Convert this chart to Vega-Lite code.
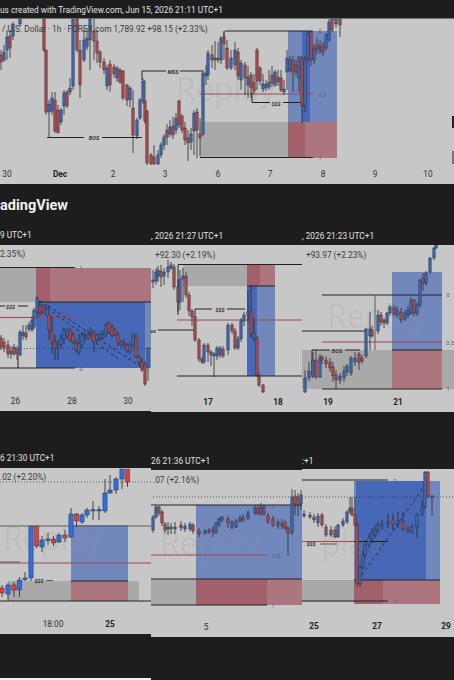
{
"$schema":"https://vega.github.io/schema/vega-lite/v6.json",
"width":454,"height":680,"padding":0,"autosize":{"type":"none"},
"background":"#1d1d1d","view":{"stroke":null},
"datasets":{
"areas":[
{"x":0,"x2":454,"y":18.5,"y2":184,"k":"panel"},
{"x":0,"x2":151,"y":245,"y2":411,"k":"panel"},
{"x":151,"x2":302,"y":245,"y2":412,"k":"panel"},
{"x":302,"x2":454,"y":245,"y2":412,"k":"panel"},
{"x":0,"x2":151,"y":468,"y2":634,"k":"panel"},
{"x":151,"x2":302,"y":470,"y2":637,"k":"panel"},
{"x":302,"x2":454,"y":469,"y2":637,"k":"panel"},
{"x":0,"x2":151,"y":678,"y2":680,"k":"white"},
{"x":452,"x2":454,"y":116,"y2":128,"k":"line"},
{"x":452,"x2":454,"y":151,"y2":164,"k":"redDark"},
{"x":200,"x2":288,"y":122,"y2":158,"k":"gray"},
{"x":288,"x2":337,"y":31,"y2":122,"k":"blue"},
{"x":302,"x2":310,"y":31,"y2":122,"k":"blueDark"},
{"x":288,"x2":337,"y":122,"y2":158,"k":"red"},
{"x":288,"x2":305,"y":122,"y2":158,"k":"redDark"},
{"x":0,"x2":36,"y":268,"y2":302,"k":"gray"},
{"x":36,"x2":151,"y":268,"y2":302,"k":"red"},
{"x":36,"x2":50,"y":268,"y2":302,"k":"redDark"},
{"x":36,"x2":151,"y":302,"y2":368,"k":"blue"},
{"x":36,"x2":145,"y":302,"y2":368,"k":"blueDark"},
{"x":183,"x2":247,"y":264,"y2":286,"k":"gray"},
{"x":247,"x2":275,"y":264,"y2":286,"k":"red"},
{"x":247,"x2":260,"y":264,"y2":286,"k":"redDark"},
{"x":247,"x2":275,"y":286,"y2":376,"k":"blue"},
{"x":247,"x2":257,"y":286,"y2":376,"k":"blueDark"},
{"x":302,"x2":454,"y":350,"y2":389,"k":"gray"},
{"x":392,"x2":442,"y":272,"y2":350,"k":"blue"},
{"x":392,"x2":442,"y":350,"y2":389,"k":"red"},
{"x":8,"x2":139,"y":581,"y2":601,"k":"gray"},
{"x":71,"x2":128,"y":525,"y2":581,"k":"blue"},
{"x":71,"x2":128,"y":581,"y2":601,"k":"red"},
{"x":151,"x2":196,"y":579,"y2":605,"k":"gray"},
{"x":196,"x2":302,"y":505,"y2":579,"k":"blue"},
{"x":196,"x2":302,"y":579,"y2":605,"k":"red"},
{"x":196,"x2":267,"y":579,"y2":605,"k":"redDark"},
{"x":302,"x2":354,"y":580,"y2":602,"k":"gray"},
{"x":354,"x2":440,"y":481,"y2":580,"k":"blue"},
{"x":356,"x2":426,"y":481,"y2":580,"k":"blueDark"},
{"x":354,"x2":440,"y":580,"y2":604,"k":"red"},
{"x":354,"x2":383,"y":580,"y2":604,"k":"redDark"}
],
"lines":[
{"x":225,"x2":313,"y":31,"y2":31,"k":"line"},
{"x":224,"x2":224,"y":31,"y2":38,"k":"line"},
{"x":200,"x2":313,"y":94,"y2":94,"k":"lineRed"},
{"x":200,"x2":313,"y":157.5,"y2":157.5,"k":"line"},
{"x":142,"x2":166,"y":71,"y2":71,"k":"line"},
{"x":180,"x2":204,"y":71,"y2":71,"k":"line"},
{"x":142,"x2":142,"y":71,"y2":80,"k":"line"},
{"x":47,"x2":84,"y":137.5,"y2":137.5,"k":"line"},
{"x":102,"x2":142,"y":137.5,"y2":137.5,"k":"line"},
{"x":252,"x2":270,"y":102.5,"y2":102.5,"k":"line"},
{"x":283,"x2":302,"y":102.5,"y2":102.5,"k":"line"},
{"x":252,"x2":252,"y":92,"y2":102.5,"k":"line"},
{"x":0,"x2":75,"y":267.5,"y2":267.5,"k":"line"},
{"x":36,"x2":151,"y":302,"y2":302,"k":"line"},
{"x":0,"x2":75,"y":317.5,"y2":317.5,"k":"lineRed"},
{"x":0,"x2":75,"y":368,"y2":368,"k":"line"},
{"x":18,"x2":18,"y":355,"y2":368,"k":"line"},
{"x":0,"x2":5,"y":306,"y2":306,"k":"line"},
{"x":18,"x2":28,"y":306,"y2":306,"k":"line"},
{"x":178,"x2":302,"y":264.5,"y2":264.5,"k":"line"},
{"x":178,"x2":178,"y":265,"y2":315,"k":"line"},
{"x":247,"x2":275,"y":286,"y2":286,"k":"line"},
{"x":177,"x2":302,"y":320,"y2":320,"k":"lineRed"},
{"x":177,"x2":302,"y":376,"y2":376,"k":"line"},
{"x":195,"x2":212,"y":309,"y2":309,"k":"line"},
{"x":227,"x2":245,"y":309,"y2":309,"k":"line"},
{"x":195,"x2":195,"y":309,"y2":318,"k":"line"},
{"x":158,"x2":195,"y":330,"y2":330,"k":"line"},
{"x":322,"x2":442,"y":295,"y2":295,"k":"line"},
{"x":322,"x2":442,"y":342,"y2":342,"k":"lineRed"},
{"x":322,"x2":442,"y":389,"y2":389,"k":"line"},
{"x":302,"x2":365,"y":331,"y2":331,"k":"line"},
{"x":375,"x2":375,"y":295,"y2":350,"k":"lineGray"},
{"x":312,"x2":330,"y":350,"y2":350,"k":"line"},
{"x":345,"x2":360,"y":350,"y2":350,"k":"line"},
{"x":312,"x2":312,"y":350,"y2":375,"k":"line"},
{"x":392,"x2":442,"y":350,"y2":350,"k":"line"},
{"x":0,"x2":151,"y":526,"y2":526,"k":"lineGray"},
{"x":0,"x2":151,"y":563,"y2":563,"k":"lineRed"},
{"x":0,"x2":20,"y":562,"y2":562,"k":"lineGray"},
{"x":71,"x2":128,"y":581,"y2":581,"k":"line"},
{"x":0,"x2":151,"y":601,"y2":601,"k":"line"},
{"x":46,"x2":53,"y":580.5,"y2":580.5,"k":"lineGray"},
{"x":151,"x2":302,"y":505,"y2":505,"k":"line"},
{"x":151,"x2":302,"y":579,"y2":579,"k":"line"},
{"x":151,"x2":267,"y":555,"y2":555,"k":"lineRed"},
{"x":151,"x2":267,"y":605,"y2":605,"k":"line"},
{"x":302,"x2":388,"y":480,"y2":480,"k":"line"},
{"x":302,"x2":388,"y":601,"y2":601,"k":"line"},
{"x":302,"x2":354,"y":541.5,"y2":541.5,"k":"lineRed"},
{"x":354,"x2":388,"y":541.5,"y2":541.5,"k":"line"},
{"x":320,"x2":337,"y":544,"y2":544,"k":"lineGray"},
{"x":354,"x2":440,"y":580,"y2":580,"k":"line"}
],
"dash":[
{"x":48,"x2":143,"y":306,"y2":368,"k":"line"},
{"x":52,"x2":120,"y":312,"y2":360,"k":"line"},
{"x":362,"x2":425,"y":575,"y2":485,"k":"line"}
],
"dots":[
{"x":0,"x2":151,"y":348.5,"y2":348.5,"k":"line"},
{"x":0,"x2":151,"y":482,"y2":482,"k":"line"},
{"x":153,"x2":302,"y":497,"y2":497,"k":"line"},
{"x":302,"x2":454,"y":497,"y2":497,"k":"line"}
],
"candles":[
{"p":"A","x":1,"top":55,"bottom":62,"high":50,"low":70,"d":"down"},
{"p":"A","x":4,"top":52,"bottom":60,"high":45,"low":62,"d":"up"},
{"p":"A","x":7,"top":37,"bottom":50,"high":30,"low":60,"d":"up"},
{"p":"A","x":10,"top":36,"bottom":48,"high":30,"low":58,"d":"down"},
{"p":"A","x":13,"top":24,"bottom":36,"high":22,"low":40,"d":"up"},
{"p":"A","x":20,"top":19,"bottom":24,"high":19,"low":27,"d":"up"},
{"p":"A","x":44,"top":19,"bottom":50,"high":19,"low":52,"d":"down"},
{"p":"A","x":46,"top":50,"bottom":112,"high":50,"low":115,"d":"down"},
{"p":"A","x":49,"top":104,"bottom":112,"high":100,"low":138,"d":"up"},
{"p":"A","x":52,"top":98,"bottom":111,"high":92,"low":115,"d":"up"},
{"p":"A","x":55,"top":100,"bottom":131,"high":92,"low":133,"d":"down"},
{"p":"A","x":58,"top":110,"bottom":133,"high":105,"low":133,"d":"down"},
{"p":"A","x":61,"top":110,"bottom":122,"high":108,"low":125,"d":"up"},
{"p":"A","x":64,"top":93,"bottom":106,"high":90,"low":115,"d":"up"},
{"p":"A","x":67,"top":92,"bottom":106,"high":90,"low":108,"d":"down"},
{"p":"A","x":70,"top":88,"bottom":92,"high":78,"low":95,"d":"up"},
{"p":"A","x":73,"top":19,"bottom":86,"high":19,"low":90,"d":"up"},
{"p":"A","x":77,"top":19,"bottom":50,"high":19,"low":52,"d":"down"},
{"p":"A","x":80,"top":50,"bottom":85,"high":40,"low":98,"d":"down"},
{"p":"A","x":84,"top":40,"bottom":60,"high":30,"low":62,"d":"up"},
{"p":"A","x":87,"top":38,"bottom":47,"high":28,"low":50,"d":"up"},
{"p":"A","x":90,"top":19,"bottom":40,"high":19,"low":70,"d":"up"},
{"p":"A","x":94,"top":31,"bottom":41,"high":19,"low":60,"d":"down"},
{"p":"A","x":97,"top":41,"bottom":53,"high":30,"low":63,"d":"down"},
{"p":"A","x":100,"top":52,"bottom":62,"high":50,"low":68,"d":"down"},
{"p":"A","x":104,"top":62,"bottom":70,"high":58,"low":74,"d":"down"},
{"p":"A","x":107,"top":68,"bottom":86,"high":65,"low":90,"d":"up"},
{"p":"A","x":110,"top":64,"bottom":85,"high":60,"low":92,"d":"down"},
{"p":"A","x":114,"top":67,"bottom":74,"high":64,"low":78,"d":"down"},
{"p":"A","x":117,"top":68,"bottom":78,"high":66,"low":82,"d":"up"},
{"p":"A","x":120,"top":70,"bottom":82,"high":68,"low":84,"d":"down"},
{"p":"A","x":123,"top":71,"bottom":98,"high":70,"low":100,"d":"down"},
{"p":"A","x":127,"top":85,"bottom":100,"high":84,"low":106,"d":"down"},
{"p":"A","x":130,"top":88,"bottom":100,"high":86,"low":107,"d":"up"},
{"p":"A","x":133,"top":108,"bottom":135,"high":90,"low":153,"d":"down"},
{"p":"A","x":137,"top":120,"bottom":136,"high":118,"low":139,"d":"up"},
{"p":"A","x":140,"top":100,"bottom":118,"high":98,"low":120,"d":"up"},
{"p":"A","x":143,"top":81,"bottom":101,"high":78,"low":104,"d":"up"},
{"p":"A","x":145,"top":101,"bottom":121,"high":80,"low":124,"d":"down"},
{"p":"A","x":147,"top":111,"bottom":163,"high":110,"low":165,"d":"down"},
{"p":"A","x":151,"top":155,"bottom":164,"high":153,"low":165,"d":"down"},
{"p":"A","x":154,"top":157,"bottom":164,"high":145,"low":165,"d":"down"},
{"p":"A","x":158,"top":155,"bottom":164,"high":150,"low":165,"d":"up"},
{"p":"A","x":161,"top":145,"bottom":155,"high":142,"low":158,"d":"up"},
{"p":"A","x":164,"top":137,"bottom":145,"high":134,"low":150,"d":"up"},
{"p":"A","x":167,"top":130,"bottom":137,"high":124,"low":145,"d":"down"},
{"p":"A","x":170,"top":127,"bottom":134,"high":120,"low":137,"d":"up"},
{"p":"A","x":173,"top":126,"bottom":135,"high":117,"low":139,"d":"down"},
{"p":"A","x":176,"top":118,"bottom":130,"high":113,"low":134,"d":"up"},
{"p":"A","x":179,"top":101,"bottom":125,"high":100,"low":128,"d":"down"},
{"p":"A","x":182,"top":116,"bottom":130,"high":114,"low":133,"d":"down"},
{"p":"A","x":185,"top":128,"bottom":140,"high":122,"low":145,"d":"down"},
{"p":"A","x":188,"top":138,"bottom":143,"high":130,"low":161,"d":"down"},
{"p":"A","x":191,"top":134,"bottom":142,"high":128,"low":150,"d":"up"},
{"p":"A","x":194,"top":113,"bottom":131,"high":110,"low":155,"d":"up"},
{"p":"A","x":197,"top":112,"bottom":130,"high":108,"low":158,"d":"down"},
{"p":"A","x":200,"top":134,"bottom":138,"high":118,"low":156,"d":"down"},
{"p":"A","x":203,"top":73,"bottom":134,"high":72,"low":136,"d":"up"},
{"p":"A","x":206,"top":73,"bottom":76,"high":65,"low":85,"d":"up"},
{"p":"A","x":208,"top":53,"bottom":75,"high":50,"low":80,"d":"up"},
{"p":"A","x":212,"top":55,"bottom":60,"high":45,"low":68,"d":"down"},
{"p":"A","x":215,"top":58,"bottom":60,"high":41,"low":70,"d":"up"},
{"p":"A","x":218,"top":58,"bottom":60,"high":42,"low":63,"d":"down"},
{"p":"A","x":221,"top":38,"bottom":60,"high":36,"low":64,"d":"up"},
{"p":"A","x":224,"top":37,"bottom":44,"high":33,"low":60,"d":"down"},
{"p":"A","x":227,"top":48,"bottom":68,"high":40,"low":70,"d":"down"},
{"p":"A","x":231,"top":58,"bottom":68,"high":50,"low":70,"d":"up"},
{"p":"A","x":235,"top":50,"bottom":65,"high":42,"low":70,"d":"up"},
{"p":"A","x":238,"top":52,"bottom":76,"high":48,"low":80,"d":"down"},
{"p":"A","x":241,"top":63,"bottom":80,"high":60,"low":90,"d":"up"},
{"p":"A","x":245,"top":65,"bottom":78,"high":62,"low":95,"d":"down"},
{"p":"A","x":248,"top":77,"bottom":85,"high":66,"low":98,"d":"up"},
{"p":"A","x":251,"top":75,"bottom":88,"high":72,"low":98,"d":"down"},
{"p":"A","x":254,"top":82,"bottom":91,"high":74,"low":94,"d":"down"},
{"p":"A","x":257,"top":50,"bottom":81,"high":48,"low":90,"d":"down"},
{"p":"A","x":260,"top":68,"bottom":81,"high":66,"low":85,"d":"down"},
{"p":"A","x":263,"top":84,"bottom":89,"high":74,"low":92,"d":"up"},
{"p":"A","x":266,"top":84,"bottom":88,"high":80,"low":91,"d":"up"},
{"p":"A","x":269,"top":82,"bottom":87,"high":70,"low":90,"d":"up"},
{"p":"A","x":272,"top":75,"bottom":83,"high":66,"low":87,"d":"down"},
{"p":"A","x":275,"top":72,"bottom":85,"high":70,"low":87,"d":"up"},
{"p":"A","x":278,"top":77,"bottom":82,"high":70,"low":86,"d":"down"},
{"p":"A","x":281,"top":78,"bottom":90,"high":70,"low":92,"d":"down"},
{"p":"A","x":284,"top":89,"bottom":92,"high":80,"low":95,"d":"up"},
{"p":"A","x":287,"top":58,"bottom":72,"high":50,"low":90,"d":"up"},
{"p":"A","x":290,"top":60,"bottom":70,"high":56,"low":72,"d":"up"},
{"p":"A","x":293,"top":60,"bottom":72,"high":56,"low":92,"d":"down"},
{"p":"A","x":296,"top":65,"bottom":72,"high":60,"low":76,"d":"down"},
{"p":"A","x":299,"top":57,"bottom":78,"high":56,"low":92,"d":"up"},
{"p":"A","x":302,"top":58,"bottom":106,"high":56,"low":123,"d":"down"},
{"p":"A","x":305,"top":60,"bottom":106,"high":56,"low":112,"d":"up"},
{"p":"A","x":308,"top":34,"bottom":58,"high":32,"low":62,"d":"up"},
{"p":"A","x":311,"top":32,"bottom":60,"high":31,"low":66,"d":"down"},
{"p":"A","x":314,"top":48,"bottom":60,"high":44,"low":64,"d":"up"},
{"p":"A","x":317,"top":45,"bottom":50,"high":38,"low":54,"d":"down"},
{"p":"A","x":320,"top":46,"bottom":50,"high":40,"low":54,"d":"up"},
{"p":"A","x":323,"top":46,"bottom":52,"high":42,"low":56,"d":"down"},
{"p":"A","x":326,"top":35,"bottom":48,"high":33,"low":50,"d":"up"},
{"p":"A","x":329,"top":22,"bottom":40,"high":19,"low":42,"d":"up"},
{"p":"A","x":332,"top":19,"bottom":30,"high":19,"low":32,"d":"down"},
{"p":"A","x":336,"top":19,"bottom":24,"high":19,"low":28,"d":"up"},
{"p":"A","x":340,"top":19,"bottom":25,"high":19,"low":37,"d":"down"},
{"p":"B","x":1,"top":338,"bottom":347,"high":335,"low":350,"d":"down"},
{"p":"B","x":4,"top":342,"bottom":348,"high":338,"low":352,"d":"down"},
{"p":"B","x":8,"top":345,"bottom":354,"high":340,"low":358,"d":"down"},
{"p":"B","x":11,"top":351,"bottom":354,"high":346,"low":359,"d":"up"},
{"p":"B","x":14,"top":347,"bottom":354,"high":344,"low":356,"d":"down"},
{"p":"B","x":17,"top":349,"bottom":354,"high":346,"low":360,"d":"down"},
{"p":"B","x":20,"top":332,"bottom":355,"high":330,"low":356,"d":"up"},
{"p":"B","x":23,"top":332,"bottom":336,"high":325,"low":340,"d":"up"},
{"p":"B","x":26,"top":333,"bottom":337,"high":325,"low":340,"d":"down"},
{"p":"B","x":29,"top":325,"bottom":329,"high":322,"low":332,"d":"up"},
{"p":"B","x":32,"top":320,"bottom":330,"high":316,"low":332,"d":"up"},
{"p":"B","x":34,"top":310,"bottom":327,"high":308,"low":329,"d":"up"},
{"p":"B","x":37,"top":298,"bottom":312,"high":296,"low":318,"d":"up"},
{"p":"B","x":40,"top":305,"bottom":313,"high":300,"low":316,"d":"down"},
{"p":"B","x":43,"top":306,"bottom":312,"high":304,"low":314,"d":"down"},
{"p":"B","x":46,"top":306,"bottom":309,"high":304,"low":316,"d":"up"},
{"p":"B","x":49,"top":315,"bottom":330,"high":306,"low":340,"d":"down"},
{"p":"B","x":52,"top":330,"bottom":342,"high":316,"low":354,"d":"down"},
{"p":"B","x":55,"top":342,"bottom":348,"high":335,"low":360,"d":"down"},
{"p":"B","x":58,"top":342,"bottom":345,"high":340,"low":360,"d":"up"},
{"p":"B","x":61,"top":338,"bottom":345,"high":334,"low":349,"d":"up"},
{"p":"B","x":64,"top":330,"bottom":340,"high":328,"low":344,"d":"up"},
{"p":"B","x":67,"top":330,"bottom":336,"high":328,"low":339,"d":"up"},
{"p":"B","x":70,"top":330,"bottom":340,"high":328,"low":342,"d":"down"},
{"p":"B","x":73,"top":335,"bottom":342,"high":332,"low":344,"d":"down"},
{"p":"B","x":76,"top":343,"bottom":350,"high":339,"low":353,"d":"down"},
{"p":"B","x":79,"top":343,"bottom":352,"high":334,"low":355,"d":"up"},
{"p":"B","x":82,"top":335,"bottom":345,"high":332,"low":348,"d":"up"},
{"p":"B","x":85,"top":336,"bottom":338,"high":332,"low":342,"d":"up"},
{"p":"B","x":88,"top":335,"bottom":338,"high":330,"low":340,"d":"down"},
{"p":"B","x":91,"top":333,"bottom":335,"high":327,"low":338,"d":"up"},
{"p":"B","x":94,"top":333,"bottom":342,"high":330,"low":353,"d":"down"},
{"p":"B","x":97,"top":335,"bottom":340,"high":333,"low":343,"d":"up"},
{"p":"B","x":100,"top":334,"bottom":338,"high":331,"low":341,"d":"up"},
{"p":"B","x":103,"top":335,"bottom":338,"high":330,"low":340,"d":"up"},
{"p":"B","x":106,"top":325,"bottom":333,"high":322,"low":337,"d":"up"},
{"p":"B","x":109,"top":323,"bottom":332,"high":321,"low":334,"d":"down"},
{"p":"B","x":112,"top":327,"bottom":335,"high":324,"low":338,"d":"down"},
{"p":"B","x":115,"top":330,"bottom":334,"high":328,"low":336,"d":"down"},
{"p":"B","x":118,"top":335,"bottom":343,"high":332,"low":346,"d":"down"},
{"p":"B","x":121,"top":342,"bottom":345,"high":340,"low":347,"d":"down"},
{"p":"B","x":124,"top":343,"bottom":345,"high":339,"low":348,"d":"up"},
{"p":"B","x":127,"top":345,"bottom":350,"high":343,"low":353,"d":"down"},
{"p":"B","x":130,"top":345,"bottom":352,"high":342,"low":354,"d":"up"},
{"p":"B","x":133,"top":336,"bottom":345,"high":333,"low":347,"d":"up"},
{"p":"B","x":136,"top":337,"bottom":357,"high":333,"low":358,"d":"down"},
{"p":"B","x":139,"top":357,"bottom":362,"high":355,"low":365,"d":"down"},
{"p":"B","x":142,"top":362,"bottom":370,"high":358,"low":372,"d":"down"},
{"p":"B","x":145,"top":365,"bottom":384,"high":361,"low":386,"d":"down"},
{"p":"B","x":148,"top":348,"bottom":368,"high":347,"low":381,"d":"up"},
{"p":"C","x":153,"top":280,"bottom":282,"high":270,"low":288,"d":"up"},
{"p":"C","x":156,"top":272,"bottom":281,"high":268,"low":285,"d":"up"},
{"p":"C","x":158,"top":270,"bottom":276,"high":266,"low":282,"d":"up"},
{"p":"C","x":161,"top":271,"bottom":277,"high":265,"low":287,"d":"down"},
{"p":"C","x":164,"top":272,"bottom":276,"high":268,"low":285,"d":"up"},
{"p":"C","x":168,"top":267,"bottom":272,"high":260,"low":278,"d":"up"},
{"p":"C","x":171,"top":265,"bottom":268,"high":262,"low":270,"d":"up"},
{"p":"C","x":174,"top":267,"bottom":287,"high":264,"low":290,"d":"down"},
{"p":"C","x":178,"top":287,"bottom":302,"high":280,"low":312,"d":"down"},
{"p":"C","x":180,"top":279,"bottom":302,"high":270,"low":310,"d":"up"},
{"p":"C","x":183,"top":276,"bottom":279,"high":268,"low":302,"d":"up"},
{"p":"C","x":186,"top":276,"bottom":295,"high":272,"low":298,"d":"down"},
{"p":"C","x":189,"top":295,"bottom":311,"high":292,"low":316,"d":"down"},
{"p":"C","x":192,"top":311,"bottom":317,"high":309,"low":326,"d":"down"},
{"p":"C","x":195,"top":317,"bottom":340,"high":316,"low":342,"d":"down"},
{"p":"C","x":199,"top":340,"bottom":359,"high":338,"low":362,"d":"down"},
{"p":"C","x":202,"top":359,"bottom":362,"high":357,"low":364,"d":"down"},
{"p":"C","x":204,"top":345,"bottom":362,"high":343,"low":364,"d":"up"},
{"p":"C","x":208,"top":345,"bottom":352,"high":343,"low":362,"d":"down"},
{"p":"C","x":211,"top":352,"bottom":355,"high":350,"low":366,"d":"down"},
{"p":"C","x":214,"top":354,"bottom":356,"high":352,"low":377,"d":"up"},
{"p":"C","x":217,"top":348,"bottom":356,"high":346,"low":360,"d":"up"},
{"p":"C","x":220,"top":348,"bottom":355,"high":346,"low":358,"d":"up"},
{"p":"C","x":223,"top":349,"bottom":356,"high":346,"low":358,"d":"down"},
{"p":"C","x":228,"top":325,"bottom":350,"high":323,"low":355,"d":"up"},
{"p":"C","x":232,"top":325,"bottom":331,"high":323,"low":334,"d":"down"},
{"p":"C","x":235,"top":331,"bottom":348,"high":328,"low":350,"d":"down"},
{"p":"C","x":238,"top":339,"bottom":348,"high":336,"low":350,"d":"up"},
{"p":"C","x":241,"top":321,"bottom":339,"high":318,"low":342,"d":"up"},
{"p":"C","x":244,"top":315,"bottom":321,"high":312,"low":326,"d":"up"},
{"p":"C","x":248,"top":312,"bottom":315,"high":290,"low":322,"d":"up"},
{"p":"C","x":251,"top":311,"bottom":334,"high":285,"low":338,"d":"down"},
{"p":"C","x":254,"top":333,"bottom":338,"high":318,"low":342,"d":"up"},
{"p":"C","x":257,"top":338,"bottom":375,"high":336,"low":377,"d":"down"},
{"p":"C","x":259,"top":377,"bottom":385,"high":372,"low":387,"d":"down"},
{"p":"C","x":263,"top":385,"bottom":392,"high":384,"low":393,"d":"down"},
{"p":"D","x":305,"top":378,"bottom":392,"high":370,"low":393,"d":"up"},
{"p":"D","x":309,"top":371,"bottom":378,"high":362,"low":381,"d":"up"},
{"p":"D","x":313,"top":360,"bottom":377,"high":352,"low":378,"d":"up"},
{"p":"D","x":316,"top":360,"bottom":377,"high":350,"low":379,"d":"down"},
{"p":"D","x":320,"top":357,"bottom":377,"high":354,"low":378,"d":"up"},
{"p":"D","x":322,"top":357,"bottom":360,"high":355,"low":364,"d":"down"},
{"p":"D","x":326,"top":360,"bottom":364,"high":356,"low":368,"d":"down"},
{"p":"D","x":330,"top":362,"bottom":368,"high":358,"low":372,"d":"down"},
{"p":"D","x":333,"top":367,"bottom":376,"high":362,"low":382,"d":"down"},
{"p":"D","x":336,"top":375,"bottom":380,"high":370,"low":389,"d":"down"},
{"p":"D","x":340,"top":376,"bottom":380,"high":373,"low":384,"d":"up"},
{"p":"D","x":344,"top":371,"bottom":378,"high":366,"low":382,"d":"up"},
{"p":"D","x":347,"top":366,"bottom":372,"high":364,"low":376,"d":"up"},
{"p":"D","x":351,"top":358,"bottom":373,"high":356,"low":376,"d":"up"},
{"p":"D","x":355,"top":358,"bottom":362,"high":352,"low":366,"d":"up"},
{"p":"D","x":359,"top":354,"bottom":362,"high":352,"low":370,"d":"down"},
{"p":"D","x":362,"top":358,"bottom":361,"high":355,"low":364,"d":"down"},
{"p":"D","x":366,"top":329,"bottom":356,"high":328,"low":358,"d":"up"},
{"p":"D","x":370,"top":329,"bottom":336,"high":312,"low":350,"d":"up"},
{"p":"D","x":372,"top":330,"bottom":336,"high":326,"low":338,"d":"down"},
{"p":"D","x":378,"top":315,"bottom":331,"high":310,"low":334,"d":"up"},
{"p":"D","x":381,"top":315,"bottom":322,"high":312,"low":326,"d":"down"},
{"p":"D","x":384,"top":320,"bottom":323,"high":318,"low":328,"d":"down"},
{"p":"D","x":387,"top":313,"bottom":323,"high":312,"low":325,"d":"up"},
{"p":"D","x":390,"top":307,"bottom":313,"high":305,"low":316,"d":"up"},
{"p":"D","x":394,"top":308,"bottom":314,"high":305,"low":316,"d":"down"},
{"p":"D","x":397,"top":310,"bottom":315,"high":306,"low":318,"d":"up"},
{"p":"D","x":401,"top":312,"bottom":320,"high":308,"low":323,"d":"down"},
{"p":"D","x":405,"top":313,"bottom":319,"high":310,"low":321,"d":"up"},
{"p":"D","x":408,"top":310,"bottom":315,"high":306,"low":318,"d":"up"},
{"p":"D","x":411,"top":300,"bottom":313,"high":297,"low":315,"d":"up"},
{"p":"D","x":414,"top":300,"bottom":313,"high":299,"low":316,"d":"down"},
{"p":"D","x":417,"top":305,"bottom":313,"high":302,"low":316,"d":"up"},
{"p":"D","x":420,"top":280,"bottom":305,"high":279,"low":307,"d":"up"},
{"p":"D","x":423,"top":278,"bottom":283,"high":273,"low":291,"d":"down"},
{"p":"D","x":426,"top":273,"bottom":283,"high":271,"low":286,"d":"up"},
{"p":"D","x":430,"top":258,"bottom":272,"high":257,"low":274,"d":"up"},
{"p":"D","x":434,"top":248,"bottom":258,"high":247,"low":260,"d":"up"},
{"p":"D","x":436,"top":245,"bottom":248,"high":245,"low":249,"d":"up"},
{"p":"F","x":153,"top":517,"bottom":530,"high":515,"low":533,"d":"up"},
{"p":"F","x":156,"top":507,"bottom":517,"high":505,"low":519,"d":"up"},
{"p":"F","x":159,"top":507,"bottom":513,"high":506,"low":516,"d":"down"},
{"p":"F","x":162,"top":512,"bottom":523,"high":510,"low":526,"d":"down"},
{"p":"F","x":165,"top":524,"bottom":530,"high":522,"low":533,"d":"down"},
{"p":"F","x":168,"top":527,"bottom":529,"high":522,"low":535,"d":"up"},
{"p":"F","x":171,"top":527,"bottom":529,"high":523,"low":534,"d":"up"},
{"p":"F","x":175,"top":527,"bottom":529,"high":522,"low":534,"d":"up"},
{"p":"F","x":181,"top":525,"bottom":528,"high":521,"low":531,"d":"down"},
{"p":"F","x":185,"top":526,"bottom":529,"high":523,"low":532,"d":"up"},
{"p":"F","x":190,"top":524,"bottom":529,"high":522,"low":531,"d":"up"},
{"p":"F","x":193,"top":525,"bottom":531,"high":523,"low":534,"d":"down"},
{"p":"F","x":199,"top":531,"bottom":534,"high":528,"low":537,"d":"down"},
{"p":"F","x":205,"top":531,"bottom":533,"high":529,"low":535,"d":"up"},
{"p":"F","x":209,"top":530,"bottom":532,"high":528,"low":534,"d":"up"},
{"p":"F","x":213,"top":529,"bottom":532,"high":526,"low":537,"d":"down"},
{"p":"F","x":216,"top":523,"bottom":532,"high":522,"low":534,"d":"up"},
{"p":"F","x":219,"top":519,"bottom":525,"high":517,"low":527,"d":"up"},
{"p":"F","x":222,"top":517,"bottom":520,"high":516,"low":522,"d":"up"},
{"p":"F","x":228,"top":519,"bottom":523,"high":516,"low":528,"d":"down"},
{"p":"F","x":232,"top":522,"bottom":527,"high":520,"low":530,"d":"up"},
{"p":"F","x":236,"top":521,"bottom":527,"high":519,"low":528,"d":"up"},
{"p":"F","x":240,"top":518,"bottom":521,"high":515,"low":523,"d":"up"},
{"p":"F","x":243,"top":517,"bottom":520,"high":514,"low":522,"d":"down"},
{"p":"F","x":248,"top":513,"bottom":518,"high":510,"low":520,"d":"up"},
{"p":"F","x":255,"top":508,"bottom":513,"high":506,"low":515,"d":"up"},
{"p":"F","x":258,"top":508,"bottom":514,"high":505,"low":515,"d":"down"},
{"p":"F","x":261,"top":507,"bottom":514,"high":503,"low":516,"d":"up"},
{"p":"F","x":264,"top":507,"bottom":514,"high":505,"low":516,"d":"down"},
{"p":"F","x":268,"top":516,"bottom":522,"high":513,"low":524,"d":"down"},
{"p":"F","x":273,"top":519,"bottom":525,"high":516,"low":527,"d":"down"},
{"p":"F","x":278,"top":522,"bottom":526,"high":519,"low":529,"d":"up"},
{"p":"F","x":282,"top":523,"bottom":526,"high":519,"low":529,"d":"down"},
{"p":"F","x":285,"top":523,"bottom":528,"high":520,"low":530,"d":"down"},
{"p":"F","x":288,"top":528,"bottom":533,"high":526,"low":555,"d":"down"},
{"p":"F","x":292,"top":497,"bottom":533,"high":489,"low":535,"d":"up"},
{"p":"F","x":295,"top":496,"bottom":504,"high":490,"low":515,"d":"down"},
{"p":"F","x":298,"top":497,"bottom":505,"high":493,"low":516,"d":"down"},
{"p":"F","x":301,"top":495,"bottom":504,"high":490,"low":510,"d":"up"},
{"p":"G","x":304,"top":514,"bottom":516,"high":510,"low":518,"d":"up"},
{"p":"G","x":310,"top":515,"bottom":517,"high":512,"low":519,"d":"up"},
{"p":"G","x":314,"top":517,"bottom":520,"high":514,"low":523,"d":"down"},
{"p":"G","x":318,"top":516,"bottom":523,"high":513,"low":527,"d":"up"},
{"p":"G","x":322,"top":515,"bottom":525,"high":513,"low":527,"d":"down"},
{"p":"G","x":326,"top":527,"bottom":535,"high":524,"low":537,"d":"down"},
{"p":"G","x":331,"top":530,"bottom":535,"high":526,"low":537,"d":"up"},
{"p":"G","x":335,"top":530,"bottom":537,"high":526,"low":538,"d":"down"},
{"p":"G","x":338,"top":525,"bottom":537,"high":524,"low":538,"d":"up"},
{"p":"G","x":343,"top":521,"bottom":525,"high":518,"low":527,"d":"up"},
{"p":"G","x":347,"top":512,"bottom":522,"high":510,"low":524,"d":"up"},
{"p":"G","x":350,"top":508,"bottom":512,"high":497,"low":514,"d":"up"},
{"p":"G","x":352,"top":508,"bottom":515,"high":497,"low":516,"d":"down"},
{"p":"G","x":355,"top":515,"bottom":525,"high":497,"low":526,"d":"down"},
{"p":"G","x":357,"top":525,"bottom":583,"high":523,"low":587,"d":"down"},
{"p":"G","x":360,"top":567,"bottom":584,"high":565,"low":587,"d":"up"},
{"p":"G","x":363,"top":555,"bottom":567,"high":550,"low":570,"d":"up"},
{"p":"G","x":365,"top":545,"bottom":555,"high":540,"low":558,"d":"up"},
{"p":"G","x":369,"top":538,"bottom":545,"high":533,"low":548,"d":"up"},
{"p":"G","x":372,"top":533,"bottom":540,"high":528,"low":543,"d":"up"},
{"p":"G","x":375,"top":530,"bottom":535,"high":525,"low":538,"d":"up"},
{"p":"G","x":378,"top":525,"bottom":530,"high":521,"low":533,"d":"up"},
{"p":"G","x":382,"top":524,"bottom":526,"high":519,"low":530,"d":"up"},
{"p":"G","x":388,"top":522,"bottom":524,"high":514,"low":528,"d":"up"},
{"p":"G","x":393,"top":520,"bottom":524,"high":514,"low":530,"d":"down"},
{"p":"G","x":398,"top":521,"bottom":524,"high":512,"low":528,"d":"up"},
{"p":"G","x":403,"top":522,"bottom":529,"high":512,"low":531,"d":"down"},
{"p":"G","x":408,"top":529,"bottom":531,"high":526,"low":533,"d":"down"},
{"p":"G","x":412,"top":527,"bottom":532,"high":524,"low":534,"d":"up"},
{"p":"G","x":417,"top":515,"bottom":527,"high":513,"low":538,"d":"up"},
{"p":"G","x":422,"top":508,"bottom":514,"high":500,"low":516,"d":"up"},
{"p":"G","x":425,"top":472,"bottom":507,"high":471,"low":509,"d":"up"},
{"p":"G","x":428,"top":472,"bottom":496,"high":471,"low":498,"d":"down"},
{"p":"G","x":432,"top":496,"bottom":498,"high":495,"low":515,"d":"up"}
],
"candlesE":[
{"p":"E","x":2,"top":588,"bottom":593,"high":585,"low":597,"d":"downE"},
{"p":"E","x":8,"top":585,"bottom":594,"high":583,"low":601,"d":"upE"},
{"p":"E","x":14,"top":585,"bottom":590,"high":582,"low":597,"d":"downE"},
{"p":"E","x":19.5,"top":580,"bottom":590,"high":577,"low":597,"d":"upE"},
{"p":"E","x":25,"top":578,"bottom":579.5,"high":572,"low":581,"d":"upE"},
{"p":"E","x":31,"top":526,"bottom":578,"high":526,"low":581,"d":"upE"},
{"p":"E","x":36.5,"top":526,"bottom":546,"high":526,"low":548,"d":"downE"},
{"p":"E","x":42,"top":540,"bottom":547,"high":536,"low":552,"d":"upE"},
{"p":"E","x":48,"top":539,"bottom":540.5,"high":533,"low":545,"d":"upE"},
{"p":"E","x":53.5,"top":539,"bottom":543,"high":536,"low":546,"d":"downE"},
{"p":"E","x":59,"top":535,"bottom":542,"high":533,"low":543,"d":"upE"},
{"p":"E","x":65,"top":535,"bottom":538,"high":530,"low":542,"d":"downE"},
{"p":"E","x":71,"top":514,"bottom":537,"high":508,"low":538,"d":"upE"},
{"p":"E","x":76.5,"top":514,"bottom":521,"high":513,"low":527,"d":"downE"},
{"p":"E","x":82,"top":515,"bottom":522,"high":513,"low":524,"d":"upE"},
{"p":"E","x":87,"top":510,"bottom":515,"high":508,"low":518,"d":"upE"},
{"p":"E","x":93,"top":509.5,"bottom":511,"high":501,"low":520,"d":"upE"},
{"p":"E","x":99,"top":509.5,"bottom":511,"high":506,"low":520,"d":"upE"},
{"p":"E","x":105,"top":493,"bottom":511,"high":479,"low":513,"d":"upE"},
{"p":"E","x":110,"top":490,"bottom":493,"high":475,"low":494,"d":"upE"},
{"p":"E","x":116,"top":479,"bottom":490,"high":477,"low":494,"d":"upE"},
{"p":"E","x":122,"top":469,"bottom":479,"high":469,"low":489,"d":"upE"},
{"p":"E","x":127.5,"top":469,"bottom":482,"high":469,"low":487,"d":"downE"}
],
"headers":[
{"x":0,"y":10.5,"label":"us created with TradingView.com, Jun 15, 2026 21:11 UTC+1"},
{"x":0,"y":235.5,"label":"9 UTC+1"},
{"x":151,"y":236.5,"label":", 2026 21:27 UTC+1"},
{"x":302,"y":236.5,"label":", 2026 21:23 UTC+1"},
{"x":0,"y":459,"label":"6 21:30 UTC+1"},
{"x":151,"y":462,"label":"26 21:36 UTC+1"},
{"x":302,"y":462,"label":":+1"}
],
"panelText":[
{"x":2,"y":29.5,"label":"/ U.S. Dollar · 1h · FOREX.com  1,789.92  +98.15 (+2.33%)"},
{"x":0,"y":255,"label":"2.35%)"},
{"x":155,"y":256,"label":"+92.30 (+2.19%)"},
{"x":306,"y":256,"label":"+93.97 (+2.23%)"},
{"x":0,"y":478,"label":".02 (+2.20%)"},
{"x":153,"y":481,"label":".07 (+2.16%)"}
],
"ticks":[
{"x":7,"y":174.5,"label":"30"},{"x":113,"y":174.5,"label":"2"},{"x":165,"y":174.5,"label":"3"},
{"x":218,"y":174.5,"label":"6"},{"x":270,"y":174.5,"label":"7"},{"x":323,"y":174.5,"label":"8"},
{"x":375,"y":174.5,"label":"9"},{"x":428,"y":174.5,"label":"10"},
{"x":15.5,"y":401.5,"label":"26"},{"x":72,"y":401.5,"label":"28"},{"x":128,"y":401.5,"label":"30"},
{"x":53,"y":625,"label":"18:00"},{"x":206,"y":628,"label":"5"}
],
"ticksBold":[
{"x":60,"y":174.5,"label":"Dec"},{"x":208,"y":402.5,"label":"17"},{"x":278,"y":402.5,"label":"18"},
{"x":328,"y":402.5,"label":"19"},{"x":398,"y":402.5,"label":"21"},{"x":110,"y":625,"label":"25"},
{"x":314,"y":627,"label":"25"},{"x":377,"y":627,"label":"27"},{"x":446,"y":627,"label":"29"}
],
"tags":[
{"x":94,"y":138,"label":"BOS"},{"x":173,"y":71.5,"label":"MSS"},{"x":276,"y":103.5,"label":"$$$"},
{"x":10.5,"y":306.5,"label":"$$$"},{"x":220,"y":309.5,"label":"$$$"},{"x":153,"y":330.5,"label":"os"},
{"x":337,"y":350.5,"label":"BOS"},{"x":39,"y":580.5,"label":"$$$"},{"x":311,"y":544,"label":"$$$"}
],
"levels":[
{"x":320,"y":31,"label":"0"},{"x":322,"y":94.5,"label":"0.5"},{"x":320,"y":158,"label":"1"},
{"x":81,"y":267.5,"label":"1"},{"x":83,"y":317.5,"label":"0.5"},{"x":81,"y":368.5,"label":"0"},
{"x":448,"y":295,"label":"0"},{"x":450,"y":342.5,"label":"0.5"},{"x":448,"y":389,"label":"1"},
{"x":273,"y":505.5,"label":"0"},{"x":276,"y":555.5,"label":"0.5"},{"x":273,"y":605.5,"label":"1"},
{"x":395,"y":480.5,"label":"0"},{"x":397,"y":541.5,"label":"0.5"},{"x":395,"y":602,"label":"1"}
],
"marks":[
{"x":176,"y":91,"label":"Replay"},{"x":327,"y":318,"label":"Replay"},{"x":3,"y":540,"label":"Replay"},
{"x":160,"y":545,"label":"Replay"},{"x":321,"y":545,"label":"play"}
]
},
"encoding":{
"x":{"field":"x","type":"quantitative","axis":null,"scale":{"domain":[0,454],"nice":false,"zero":false,"padding":0}},
"y":{"field":"y","type":"quantitative","axis":null,"scale":{"domain":[680,0],"nice":false,"zero":false}}
},
"layer":[
{"data":{"name":"areas"},"mark":{"type":"rect"},"encoding":{"x2":{"field":"x2"},"y2":{"field":"y2"},"color":{"field":"k","type":"nominal","legend":null,"scale":{"domain":["panel","white","gray","blue","blueDark","red","redDark","line","lineRed","lineGray","up","down","upE","downE"],"range":["#c7c7c7","#f5f5f5","#a9a9a9","#7288bd","#4768b6","#ab767d","#a2616a","#222222","#a3454f","#5c5c5c","#3f68b4","#ad4a52","#2f6fe0","#dc4045"]}}}},
{"data":{"name":"marks"},"mark":{"type":"text","align":"left","baseline":"middle","fontSize":32,"font":"Open Sans","color":"#8f8f8f","opacity":0.14},"encoding":{"text":{"field":"label"}}},
{"data":{"name":"lines"},"mark":{"type":"rule","strokeWidth":1},"encoding":{"x2":{"field":"x2"},"y2":{"field":"y2"},"color":{"field":"k","type":"nominal","legend":null}}},
{"data":{"name":"dash"},"mark":{"type":"rule","strokeWidth":0.9,"strokeDash":[3,3]},"encoding":{"x2":{"field":"x2"},"y2":{"field":"y2"},"color":{"field":"k","type":"nominal","legend":null}}},
{"data":{"name":"dots"},"mark":{"type":"rule","strokeWidth":0.7,"strokeDash":[1,2]},"encoding":{"x2":{"field":"x2"},"y2":{"field":"y2"},"color":{"field":"k","type":"nominal","legend":null}}},
{"data":{"name":"candles"},"mark":{"type":"rule","strokeWidth":0.8,"color":"#2a2a2a"},"encoding":{"y":{"field":"high","type":"quantitative","axis":null,"scale":{"domain":[680,0],"nice":false,"zero":false}},"y2":{"field":"low"}}},
{"data":{"name":"candlesE"},"mark":{"type":"rule","strokeWidth":0.9,"color":"#333333"},"encoding":{"y":{"field":"high","type":"quantitative","axis":null,"scale":{"domain":[680,0],"nice":false,"zero":false}},"y2":{"field":"low"}}},
{"data":{"name":"candles"},"mark":{"type":"bar","size":2.6,"stroke":"#222222","strokeWidth":0.4,"orient":"vertical"},"encoding":{"y":{"field":"top","type":"quantitative","axis":null,"scale":{"domain":[680,0],"nice":false,"zero":false}},"y2":{"field":"bottom"},"color":{"field":"d","type":"nominal","legend":null}}},
{"data":{"name":"candlesE"},"mark":{"type":"bar","size":4.4,"stroke":"#222222","strokeWidth":0.4,"orient":"vertical"},"encoding":{"y":{"field":"top","type":"quantitative","axis":null,"scale":{"domain":[680,0],"nice":false,"zero":false}},"y2":{"field":"bottom"},"color":{"field":"d","type":"nominal","legend":null}}},
{"data":{"name":"headers"},"mark":{"type":"text","align":"left","baseline":"middle","fontSize":8.3,"font":"Roboto","color":"#e2e2e2"},"encoding":{"text":{"field":"label"}}},
{"data":{"values":[{"x":0,"y":205.5,"label":"adingView"}]},"mark":{"type":"text","align":"left","baseline":"middle","fontSize":14.5,"fontWeight":"bold","font":"Roboto","color":"#f0f0f0"},"encoding":{"text":{"field":"label"}}},
{"data":{"name":"panelText"},"mark":{"type":"text","align":"left","baseline":"middle","fontSize":8.3,"font":"Roboto","color":"#3a3a3a"},"encoding":{"text":{"field":"label"}}},
{"data":{"name":"ticks"},"mark":{"type":"text","align":"center","baseline":"middle","fontSize":8.3,"font":"Roboto","color":"#333333"},"encoding":{"text":{"field":"label"}}},
{"data":{"name":"ticksBold"},"mark":{"type":"text","align":"center","baseline":"middle","fontSize":8.3,"fontWeight":"bold","font":"Roboto","color":"#222222"},"encoding":{"text":{"field":"label"}}},
{"data":{"name":"tags"},"mark":{"type":"text","align":"center","baseline":"middle","fontSize":5.5,"fontWeight":"bold","fontStyle":"italic","font":"Roboto","color":"#333333"},"encoding":{"text":{"field":"label"}}},
{"data":{"name":"levels"},"mark":{"type":"text","align":"center","baseline":"middle","fontSize":5.5,"font":"Roboto","color":"#55607a"},"encoding":{"text":{"field":"label"}}}
]
}
